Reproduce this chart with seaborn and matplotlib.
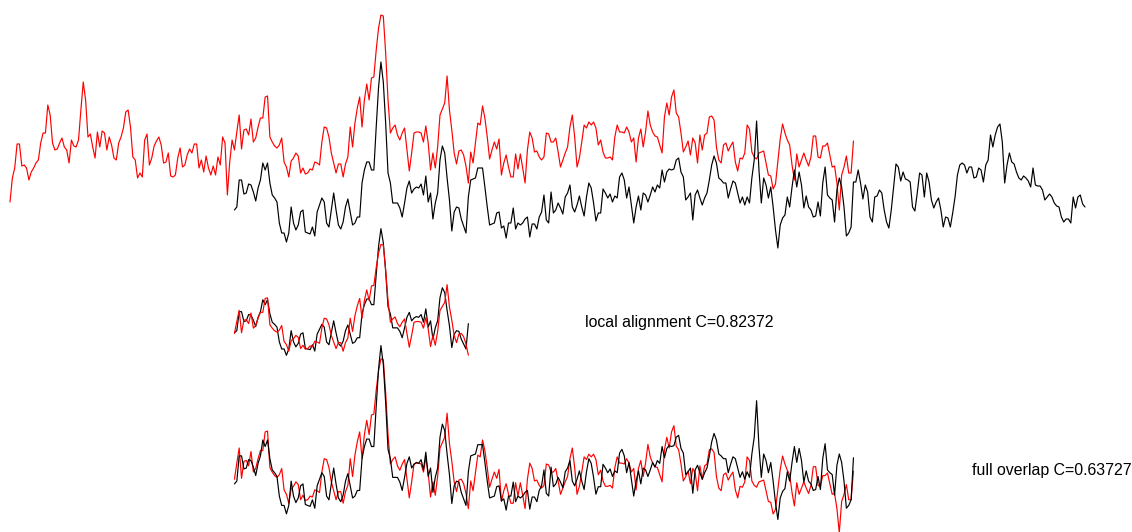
import numpy as np
import pandas as pd
import matplotlib
matplotlib.use("Agg")
import matplotlib.pyplot as plt
import seaborn as sns

# Signal values (arbitrary units, larger = lower on the page)
red_signal = [
    202, 178, 168, 144, 144, 166, 165, 168, 180, 172, 168, 163, 160, 143, 133, 133, 105, 115, 143, 150,
    149, 143, 138, 147, 150, 163, 140, 146, 147, 140, 110, 82, 100, 137, 134, 147, 158, 132, 147, 131, 133,
    150, 137, 145, 158, 160, 143, 137, 128, 112, 110, 127, 157, 160, 178, 173, 177,
    140, 134, 165, 158, 146, 141, 137, 145, 163, 162, 153, 176, 177, 175, 158, 148, 167, 165, 155, 149, 153, 144,
    144, 168, 160, 172, 156, 168, 175, 166, 175, 157, 165, 137, 143, 195, 162, 140, 150, 132, 115, 149,
    130, 129, 135, 119, 142, 138, 127, 118, 118, 97, 96, 137, 142, 146, 148,
    145, 138, 162, 167, 177, 161, 158, 153, 156, 173, 168, 174, 173, 169, 170, 162, 163, 165, 142, 127,
    128, 137, 153, 163, 173, 164, 164, 177, 164, 157, 127, 147, 123, 108, 97, 127, 100, 84, 100, 78,
    77, 50, 28, 15, 16, 53, 100, 133, 128, 125, 135, 140, 133, 128, 150, 171, 153, 133, 132, 132, 133,
    142, 126, 143, 170, 153, 168, 147, 115, 109, 103, 76, 110, 130, 153, 164, 151, 150, 155, 166, 183,
    152, 163, 143, 123, 125, 106, 118, 137, 159, 150, 142, 149, 139, 175, 163, 155, 167, 177, 177, 154,
    169, 154, 168, 183, 150, 132, 138, 152, 151, 157, 160, 157, 133, 134, 142, 142, 138, 152, 167,
    160, 153, 147, 127, 115, 137, 167, 158, 142, 125, 128, 122, 125, 122, 128, 145, 140, 152, 158, 158,
    157, 160, 137, 125, 132, 132, 133, 127, 132, 142, 138, 162, 138, 129, 147, 132, 111, 125, 132, 136,
    137, 145, 153, 117, 103, 115, 97, 90, 113, 117, 133, 152, 147, 141, 155, 138, 143, 163, 135,
    150, 135, 133, 117, 116, 120, 147, 160, 163, 145, 143, 151, 146, 142, 162, 171, 158, 159, 153, 125,
    129, 152, 157, 159, 153, 152, 151, 163, 175, 176, 189, 184, 162, 139, 124, 133, 140, 145, 165, 180,
    154, 167, 160, 153, 160, 166, 157, 136, 136, 157, 158, 146, 146, 143, 155, 167, 166, 183, 210, 175,
    167, 156, 173, 173, 141,
]

black_signal = [
    210, 207, 180, 180, 194, 193, 184, 185, 192, 201, 188, 180, 163, 170, 163, 183, 195, 198, 202,
    223, 233, 233, 242, 233, 207, 223, 230, 225, 212, 210, 232, 233, 234, 227, 236, 212, 205, 198, 202,
    223, 227, 210, 193, 210, 225, 229, 222, 207, 199, 212, 225, 223, 217, 217, 183, 170, 162, 162, 170,
    170, 127, 87, 62, 82, 123, 173, 183, 203, 203, 203, 208, 217, 203, 188, 181, 193, 189, 187, 188, 184,
    195, 176, 202, 193, 219, 203, 193, 160, 146, 153, 178, 200, 231, 212, 207, 208, 219, 226, 233, 197,
    180, 179, 178, 168, 168, 168, 187, 207, 225, 224, 223, 213, 212, 228, 226, 238, 223, 223, 208, 229,
    223, 225, 223, 219, 217, 237, 224, 224, 229, 217, 212, 195, 220, 223, 192, 213, 210, 203, 208,
    214, 197, 193, 185, 207, 212, 205, 196, 207, 216, 197, 183, 188, 203, 221, 213, 213, 189, 193, 198,
    194, 202, 196, 198, 177, 173, 180, 198, 187, 205, 223, 207, 196, 210, 193, 195, 202, 195, 187, 192,
    185, 188, 170, 182, 172, 169, 170, 169, 160, 158, 172, 177, 200, 197, 193, 220, 195, 190, 198, 205,
    198, 193, 180, 165, 156, 163, 178, 180, 183, 183, 198, 189, 181, 183, 193, 203, 197, 205, 197, 203,
    178, 160, 121, 170, 203, 178, 185, 198, 187, 207, 230, 248, 225, 218, 215, 197, 207, 187, 170, 187,
    172, 185, 208, 196, 207, 210, 217, 216, 202, 216, 183, 167, 195, 198, 200, 222, 190, 178, 187, 207,
    236, 233, 227, 182, 182, 170, 183, 199, 185, 192, 217, 222, 197, 196, 190, 193, 210, 222, 228, 210,
    187, 164, 167, 181, 172, 179, 180, 182, 207, 211, 193, 173, 175, 197, 173, 182, 200, 208, 202, 198,
    210, 227, 217, 218, 227, 213, 197, 175, 165, 163, 165, 173, 167, 167, 178, 177, 168,
    170, 182, 165, 160, 135, 147, 135, 127, 124, 142, 183, 165, 153, 162, 164, 172, 178, 180, 176, 178,
    181, 187, 168, 185, 186, 186, 190, 200, 197, 194, 197, 203, 206, 207, 217, 222, 219, 219, 223, 197,
    208, 197, 195, 204, 207,
]

black_lag = 95          # sample where the black signal starts relative to the red one
local_length = 100      # length of the locally aligned window
local_label = "local alignment C=0.82372"
full_label = "full overlap C=0.63727"

sns.set_theme(style="white")
plt.rcParams["font.family"] = ["Liberation Sans", "DejaVu Sans"]

fig = plt.figure(figsize=(11.32, 5.32), dpi=100)
ax = fig.add_axes([0, 0, 1, 1])

red = np.asarray(red_signal, dtype=float)
black = np.asarray(black_signal, dtype=float)
t_red = np.arange(len(red))
t_black = np.arange(len(black)) + black_lag


def znorm(v):
    return (v - v.mean()) / v.std()


LW = 0.85
MID_SCALE, MID_BASE = 22.3, 323.0
BOT_SCALE, BOT_BASE = 23.5, 472.0

# top: raw signals
top = pd.concat([
    pd.DataFrame({"t": t_red, "v": red, "s": "red"}),
    pd.DataFrame({"t": t_black, "v": black, "s": "black"}),
])
sns.lineplot(data=top, x="t", y="v", hue="s", palette={"red": "#ff0000", "black": "#000000"},
             linewidth=LW, legend=False, ax=ax, estimator=None, sort=False)

# middle: local alignment window
mid_b = black[:local_length]
mid_r = red[black_lag:black_lag + local_length]
t_mid = t_black[:local_length]
sns.lineplot(x=t_mid, y=MID_BASE + MID_SCALE * znorm(mid_b), color="#000000", linewidth=LW, ax=ax,
             estimator=None, sort=False)
sns.lineplot(x=t_mid, y=MID_BASE + MID_SCALE * znorm(mid_r), color="#ff0000", linewidth=LW, ax=ax,
             estimator=None, sort=False)

# bottom: full overlap
n_ov = len(red) - black_lag
bot_b = black[:n_ov]
bot_r = red[black_lag:]
t_bot = t_black[:n_ov]
sns.lineplot(x=t_bot, y=BOT_BASE + BOT_SCALE * znorm(bot_r), color="#ff0000", linewidth=LW, ax=ax,
             estimator=None, sort=False)
sns.lineplot(x=t_bot, y=BOT_BASE + BOT_SCALE * znorm(bot_b), color="#000000", linewidth=LW, ax=ax,
             estimator=None, sort=False)

step = 1075.0 / (len(black) - 1 + black_lag)
ax.set_xlim(-10.0 / step, (1132.0 - 10.0) / step)
ax.set_ylim(532, 0)
ax.axis("off")

fig.text(585 / 1132, 1 - 323 / 532, local_label, fontsize=11.4, color="black", va="center", ha="left")
fig.text(972 / 1132, 1 - 470 / 532, full_label, fontsize=11.4, color="black", va="center", ha="left")

fig.savefig("out.png", dpi=100)
